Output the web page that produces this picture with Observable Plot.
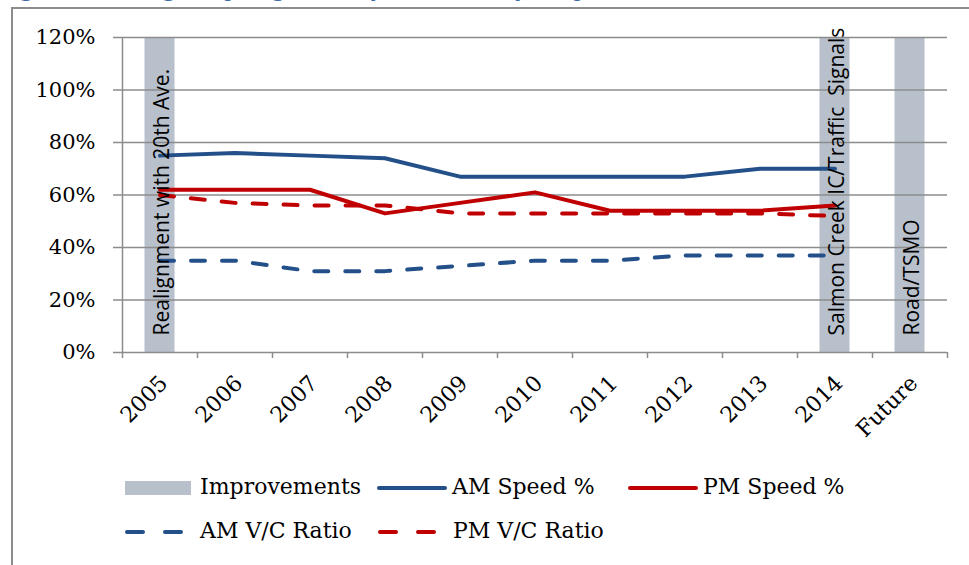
<!DOCTYPE html>
<html><head><meta charset="utf-8">
<script src="https://cdn.jsdelivr.net/npm/d3@7"></script>
<script src="https://cdn.jsdelivr.net/npm/@observablehq/plot@0.6"></script>
<style>
body{margin:0;width:969px;height:565px;overflow:hidden;position:relative;background:#fff;font-family:"DejaVu Serif",serif}
#frame{position:absolute;left:11px;top:7px;width:1000px;height:700px;border:2px solid #8c8c8c;}
#title{position:absolute;left:-2px;top:-23px;font:bold italic 21px "DejaVu Serif",serif;color:#3a6aa8;white-space:nowrap}
#chart{position:absolute;left:0;top:0}
.lt{position:absolute;font-size:22px;color:#000;line-height:1;white-space:nowrap}
.ls{position:absolute}
</style></head><body>
<div id="title">Figure 3-9: Highway Segment Speed and Capacity</div>
<div id="frame"></div>
<div id="chart"></div>
<div id="legend"></div>
<script>
const categories = ["2005","2006","2007","2008","2009","2010","2011","2012","2013","2014","Future"];
const years = ["2005","2006","2007","2008","2009","2010","2011","2012","2013","2014"];
const amSpeed = [0.75,0.76,0.75,0.74,0.67,0.67,0.67,0.67,0.70,0.70];
const pmSpeed = [0.62,0.62,0.62,0.53,0.57,0.61,0.54,0.54,0.54,0.56];
const amVC    = [0.35,0.35,0.31,0.31,0.33,0.35,0.35,0.37,0.37,0.37];
const pmVC    = [0.60,0.57,0.56,0.56,0.53,0.53,0.53,0.53,0.53,0.52];
const improvementCats = ["2005","2014","Future"];
const improvementLabels = ["Realignment with 20th Ave.","Salmon Creek IC/Traffic\u00a0 Signals","Road/TSMO"];
const improvementValue = 1.2;
const yTicks = [0,0.2,0.4,0.6,0.8,1.0,1.2];

const BLUE = "#24508a", RED = "#c00000", GRAY = "#b8c0cc", GRID = "#8c8c8c";
const idx = c => categories.indexOf(c);
const improvements = improvementCats.map((c,i)=>({i: idx(c), label: improvementLabels[i], v: improvementValue}));
const series = (arr) => arr.map((v,i)=>({x: idx(years[i]) + 0.5, v}));

const chart = Plot.plot({
  width: 969, height: 460,
  marginLeft: 122, marginRight: 22, marginTop: 37, marginBottom: 108,
  style: {fontFamily: "DejaVu Serif, serif", background: "transparent", overflow: "visible"},
  x: {type: "linear", domain: [0, categories.length], axis: null},
  y: {domain: [0, 1.2], axis: null},
  marks: [
    Plot.rectY(improvements, {x1: d => d.i + 0.3, x2: d => d.i + 0.7, y1: 0, y2: d => d.v, fill: GRAY}),
    Plot.gridY(yTicks, {stroke: GRID, strokeOpacity: 1, strokeWidth: 1.5}),
    Plot.ruleX([0], {y1: 0, y2: 1.2, stroke: GRID, strokeWidth: 1.5}),
    Plot.axisY({ticks: yTicks, label: null, tickSize: 9, tickPadding: 18, tickFormat: d3.format(".0%"), fontSize: 21, stroke: GRID, strokeWidth: 1.5, strokeOpacity: 1, fill: "#000"}),
    Plot.axisX({ticks: d3.range(categories.length + 1), label: null, tickSize: 6, tickFormat: () => "", stroke: GRID, strokeWidth: 1.5, strokeOpacity: 1}),
    Plot.text(categories, {x: (d,i) => i + 0.5, y: 0, text: d => d, rotate: -45, textAnchor: "end", lineAnchor: "middle", dx: 4, dy: 27, fontSize: 22, fill: "#000"}),
    Plot.line(series(amVC), {x: "x", y: "v", stroke: BLUE, strokeWidth: 4, strokeDasharray: "14,17", strokeLinecap: "round"}),
    Plot.line(series(pmVC), {x: "x", y: "v", stroke: RED, strokeWidth: 4, strokeDasharray: "14,17", strokeLinecap: "round"}),
    Plot.line(series(amSpeed), {x: "x", y: "v", stroke: BLUE, strokeWidth: 4, strokeLinejoin: "round"}),
    Plot.line(series(pmSpeed), {x: "x", y: "v", stroke: RED, strokeWidth: 4, strokeLinejoin: "round"}),
    Plot.text(improvements, {x: d => d.i + 0.5, y: 0, text: "label", rotate: -90, textAnchor: "start", lineAnchor: "middle", dx: 2, dy: -17, fontSize: 21, fontFamily: "Open Sans, sans-serif", fill: "#000"})
  ]
});
document.getElementById("chart").appendChild(chart);

// legend
const legendItems = [
  {label: "Improvements", kind: "rect", color: GRAY, sx: 125, sw: 66, tx: 200, y: 488},
  {label: "AM Speed %", kind: "solid", color: BLUE, sx: 377, sw: 70, tx: 452, y: 488},
  {label: "PM Speed %", kind: "solid", color: RED, sx: 628, sw: 70, tx: 703, y: 488},
  {label: "AM V/C Ratio", kind: "dash", color: BLUE, sx: 125, sw: 62, tx: 200, y: 532},
  {label: "PM V/C Ratio", kind: "dash", color: RED, sx: 378, sw: 62, tx: 453, y: 532}
];
const leg = document.getElementById("legend");
for (const it of legendItems) {
  const s = document.createElementNS("http://www.w3.org/2000/svg","svg");
  s.setAttribute("class","ls");
  s.setAttribute("width", it.sw + 8); s.setAttribute("height", 20);
  s.style.left = (it.sx - 4) + "px"; s.style.top = (it.y - 10) + "px";
  if (it.kind === "rect") {
    s.innerHTML = `<rect x="4" y="3" width="${it.sw}" height="14" fill="${it.color}"/>`;
  } else if (it.kind === "solid") {
    s.innerHTML = `<line x1="6" x2="${it.sw + 2}" y1="10" y2="10" stroke="${it.color}" stroke-width="4" stroke-linecap="round"/>`;
  } else {
    s.innerHTML = `<line x1="6" x2="${it.sw + 2}" y1="10" y2="10" stroke="${it.color}" stroke-width="4" stroke-linecap="round" stroke-dasharray="16,22"/>`;
  }
  leg.appendChild(s);
  const t = document.createElement("div");
  t.className = "lt"; t.textContent = it.label;
  t.style.left = it.tx + "px"; t.style.top = (it.y - 12) + "px";
  leg.appendChild(t);
}
</script>
</body></html>
